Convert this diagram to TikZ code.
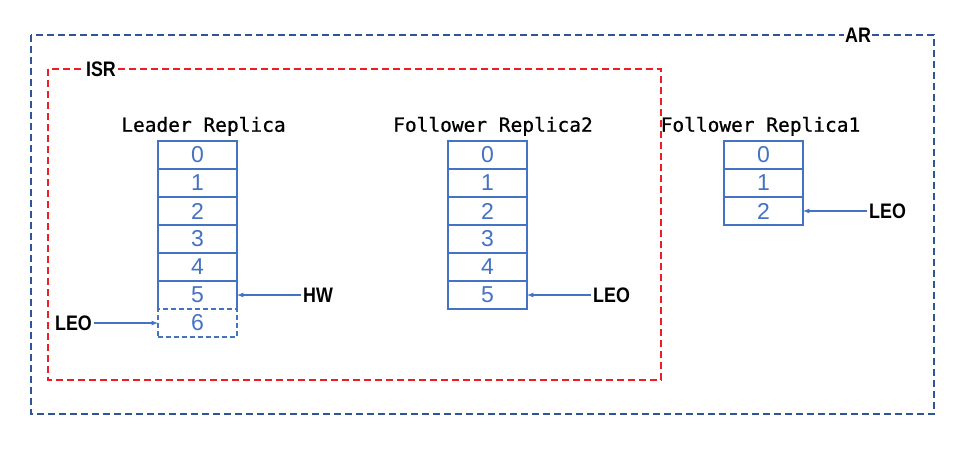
\documentclass[tikz,border=0pt]{standalone}
\usepackage{fontspec}
\newfontfamily\titlefont[FakeBold=0.8]{DejaVu Sans Mono}
\newfontfamily\cellfont{Liberation Sans}
\newfontfamily\markfont[FakeStretch=0.85]{Liberation Sans}
\usetikzlibrary{arrows, positioning}
\definecolor{cellblue}{HTML}{4472C4}
\definecolor{arblue}{HTML}{2F5597}
\definecolor{isrred}{HTML}{EE1C25}
\tikzstyle{title} = [font=\titlefont\fontsize{19.5}{20}\selectfont, inner sep=0pt]
\tikzstyle{cell} = [rectangle, draw=cellblue, line width=1.2pt, minimum width=79pt, minimum height=28pt, inner sep=0pt, outer sep=0pt, text=cellblue, font=\cellfont\fontsize{23}{24}\selectfont]
\tikzstyle{pending} = [cell, preaction={draw=white, solid}, dash pattern=on 5pt off 3pt]
\tikzstyle{marker} = [font=\markfont\bfseries\fontsize{21}{22}\selectfont, inner sep=2pt]
\tikzstyle{tag} = [marker, fill=white, inner sep=1pt]
\tikzstyle{pointer} = [draw=cellblue, line width=1.2pt, ->, >=latex]
\tikzstyle{group} = [line width=1.5pt, dash pattern=on 7pt off 4pt]

\begin{document}
\begin{tikzpicture}[x=1pt, y=-1pt, node distance=64pt]
  \useasboundingbox (0,0) rectangle (961,448);
  % AR and ISR sets
  \draw [group, draw=arblue] (31,35) rectangle (934,414);
  \draw [group, draw=isrred] (48,69) rectangle (661,380);
  \node (ar) [tag] at (858,35) {AR};
  \node (isr) [tag] at (101,69) {ISR};
  % leader
  \node (lc0) [cell] at (197.5,155) {0};
  \foreach \i [count=\j from 0] in {1,...,5}
    \node (lc\i) [cell, below=0pt of lc\j] {\i};
  \node (lc6) [pending, below=0pt of lc5] {6};
  \node (ltitle) [title, above=5pt of lc0, xshift=6pt] {Leader Replica};
  \node (hw) [marker, right=of lc5] {HW};
  \node (lleo) [marker, left=of lc6] {LEO};
  \draw [pointer] (hw) -- (lc5);
  \draw [pointer] (lleo) -- (lc6);
  % follower 2
  \node (fbc0) [cell] at (487.5,155) {0};
  \foreach \i [count=\j from 0] in {1,...,5}
    \node (fbc\i) [cell, below=0pt of fbc\j] {\i};
  \node (fbtitle) [title, above=5pt of fbc0, xshift=5.5pt] {Follower Replica2};
  \node (fbleo) [marker, right=of fbc5] {LEO};
  \draw [pointer] (fbleo) -- (fbc5);
  % follower 1
  \node (fac0) [cell] at (763.5,155) {0};
  \foreach \i [count=\j from 0] in {1,2}
    \node (fac\i) [cell, below=0pt of fac\j] {\i};
  \node (fatitle) [title, above=5pt of fac0, xshift=-3pt] {Follower Replica1};
  \node (faleo) [marker, right=of fac2] {LEO};
  \draw [pointer] (faleo) -- (fac2);
\end{tikzpicture}
\end{document}
